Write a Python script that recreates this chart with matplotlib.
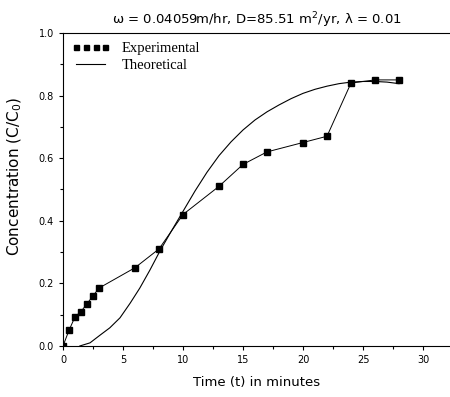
import numpy as np
import matplotlib.pyplot as plt
from matplotlib.ticker import MultipleLocator

t_exp = [0, 0.5, 1, 1.5, 2, 2.5, 3, 6, 8, 10, 13, 15, 17, 20, 22, 24, 26, 28]
c_exp = [0.0, 0.05, 0.093, 0.11, 0.135, 0.16, 0.185, 0.25, 0.31, 0.42,
         0.51, 0.58, 0.62, 0.65, 0.67, 0.84, 0.85, 0.85]

# theoretical curve
t_th = [1.4, 2.25, 3.1, 3.9, 4.75, 5.6, 6.4, 7.25, 8.1, 9, 10, 11, 12, 13,
        14, 15, 16, 17, 18, 19, 20, 21, 22, 23, 24, 25, 26, 27, 28]
c_th = [0.0, 0.01, 0.035, 0.058, 0.09, 0.137, 0.185, 0.243, 0.305, 0.365,
        0.43, 0.495, 0.555, 0.608, 0.652, 0.69, 0.722, 0.748, 0.77, 0.79,
        0.807, 0.82, 0.83, 0.838, 0.843, 0.845, 0.845, 0.843, 0.838]

plt.rcParams['font.family'] = ['DejaVu Sans']

fig = plt.figure(figsize=(4.5, 3.97), dpi=100)
ax = fig.add_axes([0.14, 0.1285, 0.86, 0.7885])

ax.plot(t_exp, c_exp, color='black', lw=0.7)
ax.plot(t_exp, c_exp, 's', color='black', ms=4.5, label='Experimental')
ax.plot(t_th, c_th, color='black', lw=0.8, label='Theoretical')

ax.set_xlim(0, 32.25)
ax.set_ylim(0, 1.0)
ax.xaxis.set_major_locator(MultipleLocator(5))
ax.xaxis.set_minor_locator(MultipleLocator(2.5))
ax.yaxis.set_major_locator(MultipleLocator(0.2))
ax.yaxis.set_minor_locator(MultipleLocator(0.1))
ax.yaxis.set_major_formatter(plt.FormatStrFormatter('%.1f'))
ax.tick_params(which='both', direction='out', labelsize=7, width=0.8)
ax.tick_params(which='major', length=3)
ax.tick_params(which='minor', length=2)
ax.spines['right'].set_visible(False)

ax.set_xlabel('Time (t) in minutes', fontsize=9.5, labelpad=8)
ax.set_ylabel('Concentration (C/C$_0$)', fontsize=11)
ax.yaxis.set_label_coords(-0.10, 0.54)
ax.set_title('ω = 0.04059m/hr, D=85.51 m$^2$/yr, λ = 0.01', fontsize=9.5, pad=6)

leg = ax.legend(loc='upper left', frameon=False, numpoints=4, markerscale=0.8,
                prop={'family': 'Liberation Serif', 'size': 10.5},
                handlelength=2.6, handletextpad=0.8, borderaxespad=0.3,
                borderpad=0.3, labelspacing=0.3)
# legend markers without the connecting line
leg.legend_handles[0].set_linestyle('None')

fig.savefig('out.png', dpi=100)
